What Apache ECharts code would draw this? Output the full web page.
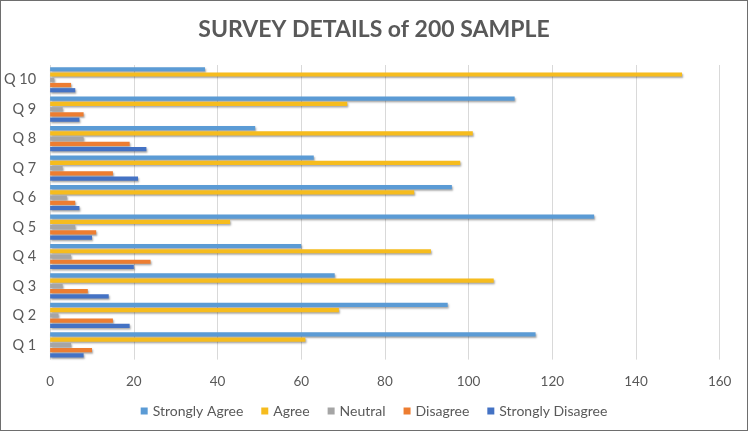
<!DOCTYPE html>
<html><head><meta charset="utf-8">
<script src="https://cdn.jsdelivr.net/npm/echarts@6/dist/echarts.min.js"></script>
<style>html,body{margin:0;padding:0;background:#fff}#c{width:748px;height:431px;box-sizing:border-box;border:1.5px solid #6e6e6e}</style>
</head><body><div id="c"></div>
<script>
const categories = ['Q 1','Q 2','Q 3','Q 4','Q 5','Q 6','Q 7','Q 8','Q 9','Q 10'];
const stronglyAgree    = [116, 95, 68, 60, 130, 96, 63, 49, 111, 37];
const agree            = [61, 69, 106, 91, 43, 87, 98, 101, 71, 151];
const neutral          = [5, 2, 3, 5, 6, 4, 3, 8, 3, 1];
const disagree         = [10, 15, 9, 24, 11, 6, 15, 19, 8, 5];
const stronglyDisagree = [8, 19, 14, 20, 10, 7, 21, 23, 7, 6];
const xTicks = [0, 20, 40, 60, 80, 100, 120, 140, 160];

const font = 'Lato';
const names = ['Strongly Agree','Agree','Neutral','Disagree','Strongly Disagree'];
const colors = ['#5B9BD5','#F6BC1E','#A5A5A5','#ED7D31','#4472C4'];
const datas = [stronglyAgree, agree, neutral, disagree, stronglyDisagree];

const chart = echarts.init(document.getElementById('c'));
chart.setOption({
  animation: false,
  title: {text: 'SURVEY DETAILS of 200 SAMPLE', left: 'center', top: 12,
    textStyle: {fontFamily: font, fontWeight: 'bold', fontSize: 23, color: '#595959'}},
  legend: {data: names, bottom: 7, itemWidth: 7, itemHeight: 7, itemGap: 18,
    icon: 'rect', textStyle: {fontFamily: font, fontSize: 14, color: '#595959'}},
  grid: {left: 48.7, right: 27.3, top: 64, bottom: 70.4},
  xAxis: {type: 'value', min: xTicks[0], max: xTicks[xTicks.length-1], interval: 20,
    axisLine: {show: false}, axisTick: {show: false},
    axisLabel: {fontFamily: font, fontSize: 13.5, color: '#595959', margin: 15},
    splitLine: {show: true, lineStyle: {color: '#d9d9d9', width: 1}}},
  yAxis: {type: 'category', data: categories,
    axisLine: {show: false}, axisTick: {show: false},
    axisLabel: {fontFamily: font, fontSize: 14.5, color: '#595959', margin: 14}},
  series: names.map((n, i) => ({
    name: n, type: 'bar', data: datas[i], barWidth: 4.2, barGap: '25%',
    itemStyle: {color: colors[i], shadowColor: 'rgba(0,0,0,0.35)', shadowBlur: 2, shadowOffsetX: 1, shadowOffsetY: 1.5}
  }))
});
</script></body></html>
